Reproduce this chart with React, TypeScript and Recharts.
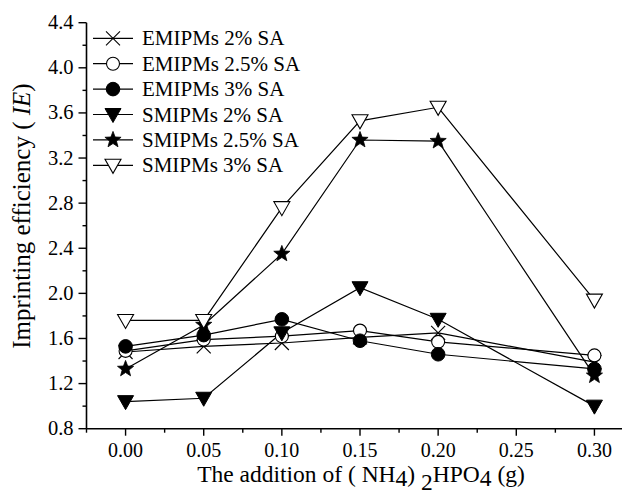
import React from 'react';
import { LineChart, Line, XAxis, YAxis } from 'recharts';

// ---- data ----
const additions = [0, 0.05, 0.1, 0.15, 0.2, 0.3];
const emipms2 = [1.48, 1.53, 1.56, 1.61, 1.65, 1.39];
const emipms25 = [1.49, 1.59, 1.62, 1.67, 1.57, 1.45];
const emipms3 = [1.53, 1.63, 1.77, 1.58, 1.46, 1.33];
const smipms2 = [1.04, 1.07, 1.65, 2.05, 1.77, 1.0];
const smipms25 = [1.33, 1.72, 2.35, 3.36, 3.35, 1.27];
const smipms3 = [1.76, 1.76, 2.76, 3.53, 3.65, 1.94];

const seriesNames = [
  'EMIPMs 2% SA',
  'EMIPMs 2.5% SA',
  'EMIPMs 3% SA',
  'SMIPMs 2% SA',
  'SMIPMs 2.5% SA',
  'SMIPMs 3% SA',
];
const seriesKeys = ['e2', 'e25', 'e3', 's2', 's25', 's3'];
const seriesMarkers = ['cross', 'openCircle', 'filledCircle', 'filledTri', 'star', 'openTri'];

const xTicks = [-0.025, 0, 0.025, 0.05, 0.075, 0.1, 0.125, 0.15, 0.175, 0.2, 0.225, 0.25, 0.275, 0.3, 0.325];
const xMajorLabels = ['0.00', '0.05', '0.10', '0.15', '0.20', '0.25', '0.30'];
const yTicks = [0.8, 1.0, 1.2, 1.4, 1.6, 1.8, 2.0, 2.2, 2.4, 2.6, 2.8, 3.0, 3.2, 3.4, 3.6, 3.8, 4.0, 4.2, 4.4];
const yMajorLabels = ['0.8', '1.2', '1.6', '2.0', '2.4', '2.8', '3.2', '3.6', '4.0', '4.4'];

const xTitleParts = ['The addition of ( NH', '4', ') ', '2', 'HPO', '4', ' (g)'];
const yTitleMain = 'Imprinting efficiency ( ';
const yTitleItalic = 'IE';
const yTitleEnd = ')';

const data = additions.map((x, i) => ({
  x,
  e2: emipms2[i],
  e25: emipms25[i],
  e3: emipms3[i],
  s2: smipms2[i],
  s25: smipms25[i],
  s3: smipms3[i],
}));

const FONT = '"Liberation Serif", "Times New Roman", serif';

function Marker({ kind, cx, cy }: { kind: string; cx: number; cy: number }) {
  switch (kind) {
    case 'cross':
      return (
        <g stroke="#000" strokeWidth={1.1}>
          <line x1={cx - 7} y1={cy - 7} x2={cx + 7} y2={cy + 7} />
          <line x1={cx - 7} y1={cy + 7} x2={cx + 7} y2={cy - 7} />
        </g>
      );
    case 'openCircle':
      return <circle cx={cx} cy={cy} r={6.5} fill="#fff" stroke="#000" strokeWidth={1.1} />;
    case 'filledCircle':
      return <circle cx={cx} cy={cy} r={6.8} fill="#000" stroke="#000" strokeWidth={1} />;
    case 'filledTri':
      return (
        <polygon
          points={`${cx - 8},${cy - 6} ${cx + 8},${cy - 6} ${cx},${cy + 8}`}
          fill="#000"
          stroke="#000"
          strokeWidth={1}
        />
      );
    case 'openTri':
      return (
        <polygon
          points={`${cx - 8},${cy - 6} ${cx + 8},${cy - 6} ${cx},${cy + 8}`}
          fill="#fff"
          stroke="#000"
          strokeWidth={1.1}
        />
      );
    case 'star': {
      const pts: string[] = [];
      for (let k = 0; k < 10; k++) {
        const r = k % 2 === 0 ? 8.5 : 3.6;
        const a = -Math.PI / 2 + (k * Math.PI) / 5;
        pts.push(`${cx + r * Math.cos(a)},${cy + r * Math.sin(a)}`);
      }
      return <polygon points={pts.join(' ')} fill="#000" stroke="#000" strokeWidth={0.8} />;
    }
    default:
      return null;
  }
}

const makeDot = (kind: string) => (props: any) => {
  const { cx, cy, index } = props;
  if (cx == null || cy == null) return <g key={`d-${index}`} />;
  return (
    <g key={`d-${kind}-${index}`}>
      <Marker kind={kind} cx={cx} cy={cy} />
    </g>
  );
};

const isMajorX = (v: number) => Math.abs(v * 20 - Math.round(v * 20)) < 1e-6 && v >= -1e-9 && v <= 0.3 + 1e-9;
const isMajorY = (v: number) => Math.abs(v / 0.4 - Math.round(v / 0.4)) < 1e-6;

const XTick = (props: any) => {
  const { x, y, payload } = props;
  const v = payload.value as number;
  const major = isMajorX(v);
  const label = major ? xMajorLabels[Math.round(v * 20)] : null;
  return (
    <g>
      <line x1={x} x2={x} y1={y} y2={y + (major ? 7 : 4)} stroke="#000" strokeWidth={1.4} />
      {label && (
        <text x={x} y={y + 28} textAnchor="middle" fontFamily={FONT} fontSize={20} fill="#000">
          {label}
        </text>
      )}
    </g>
  );
};

const YTick = (props: any) => {
  const { x, y, payload } = props;
  const v = payload.value as number;
  const major = isMajorY(v);
  const label = major ? yMajorLabels[Math.round((v - 0.8) / 0.4)] : null;
  return (
    <g>
      <line x1={x - (major ? 8 : 4)} x2={x} y1={y} y2={y} stroke="#000" strokeWidth={1.4} />
      {label && (
        <text x={x - 13} y={y + 6.5} textAnchor="end" fontFamily={FONT} fontSize={20.5} fill="#000">
          {label}
        </text>
      )}
    </g>
  );
};

const CHART_W = 660;
const CHART_H = 493;

export default function App() {
  return (
    <div
      style={{
        position: 'absolute',
        left: 0,
        top: 0,
        width: 622,
        height: 493,
        overflow: 'hidden',
        background: '#fff',
      }}
    >
      <LineChart
        width={CHART_W}
        height={CHART_H}
        data={data}
        margin={{ top: 22.7, right: CHART_W - 633.5, left: 0, bottom: 0 }}
      >
        <XAxis
          type="number"
          dataKey="x"
          domain={[-0.025, 0.325]}
          ticks={xTicks}
          interval={0}
          allowDataOverflow
          height={CHART_H - 428.7}
          tickSize={0}
          tickMargin={0}
          tickLine={false}
          tick={<XTick />}
          axisLine={{ stroke: '#000', strokeWidth: 1.6 }}
        />
        <YAxis
          type="number"
          domain={[0.8, 4.4]}
          ticks={yTicks}
          interval={0}
          allowDataOverflow
          width={86.5}
          tickSize={0}
          tickMargin={0}
          tickLine={false}
          tick={<YTick />}
          axisLine={{ stroke: '#000', strokeWidth: 1.6 }}
        />
        {seriesKeys.map((k, i) => (
          <Line
            key={k}
            dataKey={k}
            name={seriesNames[i]}
            stroke="#000"
            strokeWidth={1.2}
            isAnimationActive={false}
            dot={makeDot(seriesMarkers[i])}
            activeDot={false}
          />
        ))}
      </LineChart>
      <svg
        width={622}
        height={493}
        style={{ position: 'absolute', left: 0, top: 0, pointerEvents: 'none' }}
      >
        {seriesNames.map((n, i) => {
          const cy = 38.3 + i * 25.4;
          return (
            <g key={n}>
              <line x1={93} x2={133} y1={cy} y2={cy} stroke="#000" strokeWidth={1.2} />
              <Marker kind={seriesMarkers[i]} cx={113} cy={cy} />
              <text x={142} y={cy + 7} fontFamily={FONT} fontSize={21} fill="#000">
                {n}
              </text>
            </g>
          );
        })}
        <text x={361} y={482} textAnchor="middle" fontFamily={FONT} fontSize={23.5} fill="#000">
          <tspan>{xTitleParts[0]}</tspan>
          <tspan dy={4}>{xTitleParts[1]}</tspan>
          <tspan dy={-4}>{xTitleParts[2]}</tspan>
          <tspan dy={7.5}>{xTitleParts[3]}</tspan>
          <tspan dy={-7.5}>{xTitleParts[4]}</tspan>
          <tspan dy={4}>{xTitleParts[5]}</tspan>
          <tspan dy={-4}>{xTitleParts[6]}</tspan>
        </text>
        <text
          transform="translate(30,216) rotate(-90)"
          x={0}
          y={0}
          textAnchor="middle"
          fontFamily={FONT}
          fontSize={25}
          fill="#000"
        >
          <tspan>{yTitleMain}</tspan>
          <tspan fontStyle="italic">{yTitleItalic}</tspan>
          <tspan>{yTitleEnd}</tspan>
        </text>
      </svg>
    </div>
  );
}
